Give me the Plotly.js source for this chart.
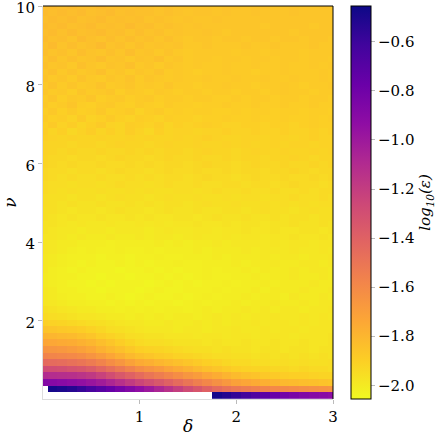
<!DOCTYPE html>
<html>
<head>
<meta charset="utf-8">
<script src="https://cdn.plot.ly/plotly-3.0.1.min.js"></script>
<style>html,body{margin:0;padding:0;background:#fff;}#chart{width:436px;height:436px;}</style>
</head>
<body>
<div id="chart"></div>
<script>
// delta (x) grid centres
const delta = [0.0,0.1,0.2,0.3,0.4,0.5,0.6,0.7,0.8,0.9,1.0,1.1,1.2,1.3,1.4,1.5,1.6,1.7,1.8,1.9,2.0,2.1,2.2,2.3,2.4,2.5,2.6,2.7,2.8,2.9,3.0];
// nu (y) grid centres
const nu = [0.100,0.268,0.436,0.603,0.771,0.939,1.107,1.275,1.442,1.610,1.778,1.946,2.114,2.281,2.449,2.617,2.785,2.953,3.120,3.288,
3.456,3.624,3.792,3.959,4.127,4.295,4.463,4.631,4.798,4.966,5.134,5.302,5.469,5.637,5.805,5.973,6.141,6.308,6.476,6.644,
6.812,6.980,7.147,7.315,7.483,7.651,7.819,7.986,8.154,8.322,8.490,8.658,8.825,8.993,9.161,9.329,9.497,9.664,9.832,10.000];
// log10(epsilon), one row per nu value (bottom to top), one column per delta value
const logEps = [
[null,null,null,null,null,null,null,null,null,null, null,null,null,null,null,null,null,null,-0.48,-0.52, -0.57,-0.62,-0.67,-0.72,-0.77,-0.81,-0.84,-0.87,-0.89,-0.91, -0.93],
[null,-0.48,-0.50,-0.53,-0.58,-0.64,-0.70,-0.76,-0.82,-0.88, -0.94,-1.00,-1.07,-1.14,-1.21,-1.28,-1.34,-1.40,-1.45,-1.49, -1.52,-1.54,-1.56,-1.58,-1.60,-1.61,-1.62,-1.63,-1.64,-1.65, -1.66],
[-0.88,-0.89,-0.91,-0.93,-0.95,-0.98,-1.02,-1.07,-1.13,-1.19, -1.25,-1.30,-1.35,-1.40,-1.45,-1.50,-1.55,-1.59,-1.63,-1.67, -1.71,-1.73,-1.75,-1.77,-1.79,-1.81,-1.82,-1.83,-1.84,-1.85, -1.86],
[-1.10,-1.11,-1.12,-1.13,-1.15,-1.18,-1.23,-1.29,-1.35,-1.40, -1.45,-1.50,-1.54,-1.58,-1.62,-1.66,-1.69,-1.73,-1.76,-1.79, -1.82,-1.84,-1.85,-1.87,-1.88,-1.89,-1.90,-1.90,-1.91,-1.92, -1.92],
[-1.28,-1.29,-1.30,-1.32,-1.34,-1.37,-1.42,-1.47,-1.52,-1.57, -1.62,-1.65,-1.68,-1.72,-1.75,-1.78,-1.81,-1.84,-1.86,-1.88, -1.90,-1.91,-1.92,-1.92,-1.93,-1.93,-1.94,-1.93,-1.94,-1.94, -1.95],
[-1.44,-1.45,-1.46,-1.48,-1.50,-1.53,-1.57,-1.62,-1.66,-1.71, -1.75,-1.77,-1.80,-1.82,-1.84,-1.86,-1.88,-1.90,-1.91,-1.93, -1.94,-1.94,-1.95,-1.95,-1.96,-1.95,-1.96,-1.95,-1.96,-1.96, -1.95],
[-1.57,-1.58,-1.59,-1.60,-1.62,-1.65,-1.69,-1.73,-1.77,-1.81, -1.84,-1.86,-1.88,-1.89,-1.91,-1.92,-1.93,-1.94,-1.95,-1.95, -1.96,-1.96,-1.97,-1.96,-1.97,-1.96,-1.97,-1.96,-1.97,-1.96, -1.97],
[-1.65,-1.66,-1.67,-1.69,-1.71,-1.74,-1.78,-1.81,-1.84,-1.87, -1.90,-1.91,-1.92,-1.93,-1.94,-1.95,-1.96,-1.96,-1.97,-1.96, -1.97,-1.97,-1.98,-1.97,-1.97,-1.98,-1.97,-1.97,-1.98,-1.97, -1.97],
[-1.73,-1.74,-1.75,-1.76,-1.78,-1.80,-1.83,-1.86,-1.89,-1.92, -1.94,-1.95,-1.95,-1.96,-1.97,-1.97,-1.97,-1.98,-1.97,-1.98, -1.98,-1.97,-1.98,-1.98,-1.97,-1.98,-1.98,-1.97,-1.98,-1.98, -1.97],
[-1.79,-1.80,-1.81,-1.82,-1.84,-1.86,-1.89,-1.91,-1.93,-1.95, -1.96,-1.97,-1.97,-1.98,-1.98,-1.98,-1.99,-1.98,-1.98,-1.99, -1.98,-1.98,-1.99,-1.98,-1.98,-1.98,-1.99,-1.98,-1.98,-1.98, -1.97],
[-1.85,-1.86,-1.87,-1.88,-1.89,-1.91,-1.93,-1.95,-1.96,-1.97, -1.98,-1.99,-1.99,-1.99,-2.00,-1.99,-1.99,-2.00,-1.99,-1.99, -1.98,-1.99,-1.99,-1.98,-1.99,-1.98,-1.98,-1.99,-1.98,-1.98, -1.98],
[-1.90,-1.91,-1.92,-1.93,-1.94,-1.95,-1.96,-1.97,-1.98,-1.99, -1.99,-2.00,-2.00,-1.99,-2.00,-2.00,-1.99,-2.00,-1.99,-2.00, -1.99,-1.99,-1.98,-1.99,-1.99,-1.98,-1.99,-1.98,-1.99,-1.98, -1.98],
[-1.94,-1.95,-1.96,-1.97,-1.98,-1.98,-1.99,-2.00,-2.00,-2.01, -2.00,-2.01,-2.00,-2.01,-2.00,-2.00,-2.01,-2.00,-1.99,-2.00, -1.99,-2.00,-1.99,-1.99,-1.98,-1.99,-1.99,-1.98,-1.99,-1.98, -1.99],
[-1.96,-1.97,-1.98,-1.99,-2.00,-2.00,-2.01,-2.01,-2.02,-2.01, -2.02,-2.01,-2.02,-2.01,-2.01,-2.02,-2.01,-2.00,-2.01,-2.00, -2.00,-1.99,-2.00,-1.99,-2.00,-1.99,-1.99,-2.00,-1.99,-1.99, -1.98],
[-1.98,-1.99,-2.00,-2.01,-2.01,-2.02,-2.02,-2.03,-2.02,-2.03, -2.02,-2.03,-2.02,-2.02,-2.03,-2.02,-2.01,-2.02,-2.01,-2.01, -2.00,-2.01,-2.00,-2.00,-1.99,-2.00,-2.00,-1.99,-2.00,-1.99, -1.99],
[-1.99,-2.00,-2.01,-2.02,-2.02,-2.03,-2.03,-2.02,-2.03,-2.04, -2.03,-2.02,-2.03,-2.03,-2.02,-2.03,-2.02,-2.01,-2.02,-2.01, -2.01,-2.00,-2.01,-2.00,-2.00,-2.01,-1.99,-2.00,-2.00,-1.99, -2.00],
[-1.99,-2.00,-2.02,-2.02,-2.03,-2.03,-2.04,-2.03,-2.03,-2.03, -2.04,-2.03,-2.02,-2.03,-2.03,-2.02,-2.02,-2.02,-2.01,-2.02, -2.01,-2.01,-2.00,-2.01,-2.00,-2.00,-2.00,-1.99,-2.00,-2.00, -1.99],
[-2.00,-2.01,-2.02,-2.03,-2.03,-2.04,-2.03,-2.04,-2.03,-2.03, -2.03,-2.04,-2.03,-2.02,-2.03,-2.02,-2.03,-2.02,-2.02,-2.01, -2.02,-2.01,-2.01,-2.00,-2.01,-2.00,-2.00,-2.00,-1.99,-2.00, -2.00],
[-2.00,-2.01,-2.02,-2.02,-2.03,-2.03,-2.04,-2.03,-2.03,-2.04, -2.03,-2.03,-2.02,-2.03,-2.02,-2.03,-2.02,-2.01,-2.02,-2.02, -2.01,-2.01,-2.00,-2.01,-2.00,-2.00,-1.99,-2.00,-2.00,-1.99, -2.00],
[-1.99,-2.01,-2.02,-2.03,-2.02,-2.03,-2.03,-2.03,-2.04,-2.03, -2.03,-2.02,-2.03,-2.02,-2.03,-2.02,-2.02,-2.01,-2.02,-2.01, -2.01,-2.00,-2.01,-2.00,-2.00,-2.00,-1.99,-2.00,-1.99,-1.99, -2.00],
[-1.99,-2.00,-2.01,-2.02,-2.03,-2.02,-2.03,-2.03,-2.02,-2.03, -2.02,-2.03,-2.02,-2.02,-2.01,-2.02,-2.02,-2.01,-2.01,-2.01, -2.00,-2.01,-2.00,-2.00,-1.99,-2.00,-2.00,-1.99,-1.99,-2.00, -1.99],
[-1.99,-2.00,-2.01,-2.02,-2.02,-2.02,-2.03,-2.02,-2.02,-2.03, -2.02,-2.02,-2.01,-2.02,-2.02,-2.01,-2.01,-2.01,-2.00,-2.01, -2.00,-2.00,-2.00,-1.99,-2.00,-1.99,-1.99,-2.00,-1.99,-1.99, -1.98],
[-1.98,-1.99,-2.00,-2.01,-2.02,-2.01,-2.02,-2.02,-2.01,-2.02, -2.02,-2.01,-2.02,-2.01,-2.01,-2.01,-2.00,-2.01,-2.00,-2.00, -2.00,-1.99,-2.00,-1.99,-1.99,-1.99,-1.98,-1.99,-1.99,-1.98, -1.99],
[-1.98,-1.99,-2.00,-2.00,-2.01,-2.01,-2.01,-2.02,-2.01,-2.01, -2.01,-2.01,-2.00,-2.01,-2.00,-2.01,-2.00,-2.00,-1.99,-2.00, -1.99,-1.99,-1.99,-1.99,-1.98,-1.99,-1.98,-1.98,-1.99,-1.98, -1.98],
[-1.98,-1.98,-1.99,-2.00,-1.99,-2.00,-2.00,-1.99,-2.00,-2.00, -1.99,-2.00,-1.99,-1.99,-2.00,-1.99,-1.98,-1.99,-1.99,-1.98, -1.99,-1.98,-1.98,-1.99,-1.98,-1.98,-1.97,-1.98,-1.98,-1.97, -1.98],
[-1.97,-1.98,-1.99,-1.99,-2.00,-1.99,-1.99,-2.00,-1.99,-1.99, -1.99,-2.00,-1.99,-1.98,-1.99,-1.99,-1.98,-1.98,-1.99,-1.98, -1.98,-1.97,-1.98,-1.98,-1.97,-1.98,-1.98,-1.97,-1.97,-1.98, -1.97],
[-1.97,-1.97,-1.98,-1.99,-1.98,-1.99,-1.99,-1.98,-1.99,-1.99, -1.98,-1.99,-1.98,-1.99,-1.98,-1.98,-1.97,-1.98,-1.98,-1.97, -1.98,-1.97,-1.97,-1.98,-1.97,-1.97,-1.96,-1.97,-1.97,-1.96, -1.97],
[-1.96,-1.97,-1.98,-1.97,-1.98,-1.98,-1.97,-1.98,-1.98,-1.97, -1.98,-1.97,-1.98,-1.98,-1.97,-1.97,-1.98,-1.97,-1.96,-1.97, -1.97,-1.96,-1.97,-1.97,-1.96,-1.97,-1.96,-1.96,-1.97,-1.96, -1.96],
[-1.96,-1.96,-1.97,-1.98,-1.97,-1.97,-1.98,-1.97,-1.96,-1.97, -1.97,-1.98,-1.97,-1.96,-1.97,-1.97,-1.96,-1.97,-1.97,-1.96, -1.96,-1.97,-1.96,-1.95,-1.96,-1.96,-1.97,-1.96,-1.95,-1.96, -1.96],
[-1.95,-1.96,-1.97,-1.96,-1.97,-1.97,-1.96,-1.97,-1.97,-1.96, -1.97,-1.96,-1.97,-1.96,-1.96,-1.97,-1.96,-1.95,-1.96,-1.96, -1.95,-1.96,-1.96,-1.95,-1.96,-1.95,-1.96,-1.95,-1.96,-1.95, -1.95],
[-1.95,-1.96,-1.96,-1.97,-1.96,-1.96,-1.97,-1.96,-1.95,-1.96, -1.96,-1.97,-1.96,-1.95,-1.96,-1.96,-1.95,-1.96,-1.96,-1.95, -1.96,-1.95,-1.95,-1.96,-1.95,-1.95,-1.94,-1.95,-1.95,-1.94, -1.95],
[-1.94,-1.95,-1.96,-1.95,-1.96,-1.96,-1.95,-1.96,-1.96,-1.95, -1.96,-1.95,-1.96,-1.96,-1.95,-1.95,-1.96,-1.95,-1.94,-1.95, -1.95,-1.94,-1.95,-1.95,-1.94,-1.95,-1.95,-1.94,-1.95,-1.94, -1.94],
[-1.94,-1.95,-1.95,-1.96,-1.95,-1.95,-1.96,-1.95,-1.94,-1.95, -1.95,-1.96,-1.95,-1.94,-1.95,-1.95,-1.94,-1.95,-1.95,-1.94, -1.94,-1.95,-1.94,-1.94,-1.95,-1.94,-1.93,-1.94,-1.94,-1.95, -1.94],
[-1.93,-1.94,-1.95,-1.94,-1.95,-1.95,-1.94,-1.95,-1.95,-1.94, -1.95,-1.94,-1.95,-1.94,-1.94,-1.95,-1.94,-1.93,-1.94,-1.94, -1.95,-1.94,-1.93,-1.94,-1.94,-1.93,-1.94,-1.94,-1.93,-1.94, -1.93],
[-1.93,-1.94,-1.94,-1.95,-1.94,-1.94,-1.95,-1.94,-1.93,-1.94, -1.94,-1.95,-1.94,-1.93,-1.94,-1.94,-1.93,-1.94,-1.94,-1.93, -1.94,-1.93,-1.93,-1.94,-1.93,-1.93,-1.92,-1.93,-1.94,-1.93, -1.93],
[-1.92,-1.93,-1.94,-1.93,-1.94,-1.94,-1.93,-1.94,-1.94,-1.93, -1.94,-1.93,-1.94,-1.93,-1.93,-1.94,-1.93,-1.92,-1.93,-1.93, -1.94,-1.93,-1.92,-1.93,-1.93,-1.92,-1.93,-1.93,-1.92,-1.93, -1.92],
[-1.92,-1.93,-1.93,-1.94,-1.93,-1.93,-1.94,-1.93,-1.92,-1.93, -1.93,-1.94,-1.93,-1.92,-1.93,-1.93,-1.92,-1.93,-1.93,-1.92, -1.93,-1.92,-1.92,-1.93,-1.92,-1.92,-1.91,-1.92,-1.93,-1.92, -1.92],
[-1.91,-1.92,-1.93,-1.92,-1.93,-1.93,-1.92,-1.93,-1.93,-1.92, -1.93,-1.92,-1.93,-1.92,-1.92,-1.93,-1.92,-1.91,-1.92,-1.92, -1.93,-1.92,-1.91,-1.92,-1.92,-1.91,-1.92,-1.92,-1.91,-1.92, -1.91],
[-1.91,-1.92,-1.92,-1.93,-1.92,-1.92,-1.93,-1.92,-1.91,-1.92, -1.92,-1.93,-1.92,-1.91,-1.92,-1.92,-1.91,-1.92,-1.92,-1.91, -1.92,-1.91,-1.92,-1.92,-1.91,-1.92,-1.91,-1.91,-1.92,-1.91, -1.91],
[-1.90,-1.91,-1.92,-1.91,-1.92,-1.92,-1.91,-1.92,-1.92,-1.91, -1.92,-1.91,-1.92,-1.92,-1.91,-1.92,-1.91,-1.90,-1.91,-1.92, -1.92,-1.91,-1.91,-1.92,-1.91,-1.91,-1.92,-1.91,-1.90,-1.91, -1.91],
[-1.89,-1.92,-1.90,-1.93,-1.91,-1.89,-1.92,-1.90,-1.92,-1.89, -1.91,-1.93,-1.90,-1.92,-1.91,-1.91,-1.92,-1.91,-1.91,-1.90, -1.91,-1.91,-1.90,-1.91,-1.91,-1.90,-1.91,-1.91,-1.90,-1.91, -1.90],
[-1.90,-1.88,-1.91,-1.89,-1.92,-1.90,-1.88,-1.91,-1.92,-1.89, -1.90,-1.91,-1.89,-1.92,-1.90,-1.91,-1.90,-1.89,-1.90,-1.91, -1.91,-1.90,-1.90,-1.91,-1.90,-1.90,-1.91,-1.90,-1.89,-1.90, -1.90],
[-1.88,-1.90,-1.89,-1.91,-1.88,-1.91,-1.90,-1.88,-1.90,-1.91, -1.89,-1.90,-1.91,-1.89,-1.90,-1.90,-1.91,-1.90,-1.90,-1.89, -1.90,-1.90,-1.89,-1.90,-1.90,-1.89,-1.90,-1.90,-1.89,-1.90, -1.89],
[-1.89,-1.87,-1.90,-1.88,-1.90,-1.89,-1.87,-1.90,-1.89,-1.88, -1.91,-1.89,-1.88,-1.90,-1.89,-1.90,-1.89,-1.89,-1.90,-1.90, -1.89,-1.90,-1.89,-1.89,-1.90,-1.89,-1.89,-1.90,-1.89,-1.89, -1.90],
[-1.87,-1.89,-1.88,-1.86,-1.89,-1.90,-1.88,-1.87,-1.89,-1.90, -1.88,-1.89,-1.90,-1.88,-1.89,-1.89,-1.90,-1.89,-1.89,-1.88, -1.89,-1.89,-1.88,-1.89,-1.89,-1.88,-1.89,-1.89,-1.88,-1.89, -1.89],
[-1.88,-1.86,-1.89,-1.87,-1.88,-1.86,-1.89,-1.88,-1.87,-1.89, -1.88,-1.87,-1.89,-1.88,-1.88,-1.89,-1.88,-1.88,-1.89,-1.89, -1.88,-1.89,-1.88,-1.88,-1.89,-1.88,-1.88,-1.89,-1.88,-1.88, -1.89],
[-1.86,-1.88,-1.87,-1.89,-1.86,-1.88,-1.87,-1.86,-1.89,-1.87, -1.88,-1.89,-1.87,-1.88,-1.89,-1.88,-1.88,-1.89,-1.88,-1.88, -1.89,-1.88,-1.88,-1.89,-1.88,-1.87,-1.88,-1.88,-1.89,-1.88, -1.88],
[-1.87,-1.85,-1.88,-1.86,-1.88,-1.87,-1.85,-1.88,-1.87,-1.86, -1.88,-1.87,-1.88,-1.86,-1.88,-1.88,-1.89,-1.88,-1.88,-1.87, -1.88,-1.88,-1.89,-1.88,-1.88,-1.87,-1.88,-1.89,-1.88,-1.88, -1.87],
[-1.85,-1.87,-1.86,-1.88,-1.85,-1.87,-1.88,-1.86,-1.87,-1.85, -1.88,-1.86,-1.87,-1.88,-1.87,-1.88,-1.88,-1.87,-1.88,-1.88, -1.87,-1.88,-1.88,-1.87,-1.88,-1.88,-1.87,-1.88,-1.88,-1.87, -1.88],
[-1.86,-1.84,-1.87,-1.85,-1.87,-1.86,-1.84,-1.87,-1.86,-1.88, -1.86,-1.87,-1.85,-1.88,-1.87,-1.88,-1.89,-1.88,-1.88,-1.87, -1.88,-1.88,-1.89,-1.88,-1.88,-1.87,-1.88,-1.88,-1.88,-1.87, -1.88],
[-1.84,-1.86,-1.85,-1.87,-1.84,-1.86,-1.87,-1.85,-1.86,-1.84, -1.87,-1.86,-1.88,-1.86,-1.87,-1.88,-1.87,-1.88,-1.88,-1.87, -1.88,-1.88,-1.87,-1.88,-1.88,-1.87,-1.88,-1.88,-1.87,-1.88, -1.87],
[-1.85,-1.83,-1.86,-1.84,-1.86,-1.85,-1.83,-1.86,-1.85,-1.87, -1.85,-1.86,-1.84,-1.87,-1.86,-1.88,-1.87,-1.87,-1.88,-1.87, -1.87,-1.88,-1.87,-1.87,-1.88,-1.87,-1.87,-1.88,-1.87,-1.87, -1.88],
[-1.83,-1.85,-1.84,-1.86,-1.83,-1.85,-1.86,-1.84,-1.86,-1.83, -1.86,-1.85,-1.87,-1.85,-1.87,-1.88,-1.87,-1.87,-1.87,-1.87, -1.88,-1.87,-1.87,-1.88,-1.87,-1.87,-1.87,-1.88,-1.87,-1.87, -1.87],
[-1.84,-1.82,-1.85,-1.83,-1.85,-1.84,-1.82,-1.85,-1.84,-1.86, -1.84,-1.86,-1.85,-1.86,-1.85,-1.87,-1.87,-1.86,-1.87,-1.87, -1.87,-1.86,-1.87,-1.87,-1.86,-1.87,-1.87,-1.87,-1.86,-1.87, -1.87],
[-1.82,-1.84,-1.83,-1.85,-1.82,-1.84,-1.85,-1.83,-1.85,-1.83, -1.85,-1.84,-1.86,-1.84,-1.86,-1.87,-1.86,-1.86,-1.87,-1.86, -1.86,-1.87,-1.86,-1.86,-1.87,-1.86,-1.86,-1.87,-1.86,-1.86, -1.87],
[-1.83,-1.82,-1.84,-1.82,-1.84,-1.83,-1.82,-1.84,-1.83,-1.85, -1.83,-1.85,-1.84,-1.86,-1.85,-1.86,-1.86,-1.85,-1.86,-1.87, -1.86,-1.86,-1.86,-1.86,-1.86,-1.86,-1.87,-1.86,-1.86,-1.86, -1.86],
[-1.82,-1.83,-1.82,-1.84,-1.83,-1.82,-1.84,-1.83,-1.84,-1.82, -1.84,-1.83,-1.85,-1.84,-1.85,-1.86,-1.85,-1.86,-1.86,-1.86, -1.86,-1.86,-1.86,-1.87,-1.86,-1.86,-1.86,-1.86,-1.87,-1.86, -1.86],
[-1.83,-1.82,-1.83,-1.82,-1.84,-1.83,-1.82,-1.84,-1.83,-1.84, -1.83,-1.85,-1.84,-1.85,-1.86,-1.85,-1.86,-1.86,-1.85,-1.86, -1.86,-1.86,-1.86,-1.86,-1.86,-1.86,-1.86,-1.86,-1.86,-1.86, -1.86],
[-1.82,-1.83,-1.82,-1.83,-1.82,-1.84,-1.83,-1.82,-1.84,-1.83, -1.84,-1.84,-1.85,-1.84,-1.85,-1.86,-1.85,-1.85,-1.86,-1.85, -1.86,-1.86,-1.85,-1.86,-1.86,-1.86,-1.85,-1.86,-1.86,-1.86, -1.86],
[-1.82,-1.82,-1.83,-1.82,-1.83,-1.83,-1.82,-1.83,-1.83,-1.84, -1.83,-1.84,-1.85,-1.84,-1.85,-1.85,-1.85,-1.85,-1.86,-1.85, -1.85,-1.86,-1.85,-1.85,-1.86,-1.86,-1.85,-1.86,-1.86,-1.85, -1.86]
];
const cbTickVals = [-2.0,-1.8,-1.6,-1.4,-1.2,-1.0,-0.8,-0.6];
const cbTickText = ['\u22122.0','\u22121.8','\u22121.6','\u22121.4','\u22121.2','\u22121.0','\u22120.8','\u22120.6'];
const xTickVals = [1,2,3];
const yTickVals = [2,4,6,8,10];

// matplotlib "plasma", reversed (low = yellow, high = dark blue)
const plasmaR = [
  [0.0,'#f0f921'],[0.1,'#fcce25'],[0.2,'#fca636'],[0.3,'#f2844b'],[0.4,'#e16462'],
  [0.5,'#cc4778'],[0.6,'#b12a90'],[0.7,'#8f0da4'],[0.8,'#6a00a8'],[0.9,'#41049d'],[1.0,'#0d0887']
];

const FONT = 'DejaVu Serif';

const trace = {
  type: 'heatmap',
  x: delta, y: nu, z: logEps,
  zmin: -2.056, zmax: -0.454,
  colorscale: plasmaR,
  hoverinfo: 'skip',
  colorbar: {
    x: 1.062, xanchor: 'left', xpad: 0, ypad: 0,
    y: 0.5, yanchor: 'middle', len: 1, lenmode: 'fraction',
    thickness: 20, thicknessmode: 'pixels',
    outlinewidth: 1, outlinecolor: '#000',
    tickmode: 'array', tickvals: cbTickVals, ticktext: cbTickText,
    ticks: 'outside', ticklen: 4, tickcolor: '#bbb', tickwidth: 1,
    tickfont: {family: FONT, size: 15, color: '#000'},
    title: {text: 'log<sub>10</sub>(ε)', side: 'right', font: {family: FONT, size: 15, color: '#000', style: 'italic'}}
  }
};

const layout = {
  width: 436, height: 436,
  margin: {l: 43, r: 103, t: 6, b: 37, pad: 0, autoexpand: false},
  paper_bgcolor: '#fff', plot_bgcolor: '#fff',
  font: {family: FONT, size: 15, color: '#000'},
  xaxis: {
    range: [0.003, 3], tickmode: 'array', tickvals: xTickVals, ticktext: ['1','2','3'],
    ticks: 'outside', ticklen: 4, tickcolor: '#bbb', tickwidth: 1, ticklabeloverflow: 'allow',
    showline: true, linecolor: '#ddd', linewidth: 1, showgrid: false, zeroline: false,
    tickfont: {family: FONT, size: 15},
    title: {text: 'δ', font: {family: FONT, size: 17, style: 'italic'}, standoff: 3}
  },
  yaxis: {
    range: [0.016, 10.002], tickmode: 'array', tickvals: yTickVals, ticktext: ['2','4','6','8','10'],
    ticks: 'outside', ticklen: 4, tickcolor: '#bbb', tickwidth: 1, ticklabeloverflow: 'allow',
    ticklabelshift: 2,
    showline: true, linecolor: '#ddd', linewidth: 1, showgrid: false, zeroline: false,
    tickfont: {family: FONT, size: 15},
    title: {text: 'ν', font: {family: FONT, size: 17, style: 'italic'}, standoff: 3}
  },
  shapes: [
    {type: 'line', xref: 'paper', yref: 'paper', x0: 0, x1: 1, y0: 1, y1: 1, line: {color: '#000', width: 1}},
    {type: 'line', xref: 'paper', yref: 'paper', x0: 1, x1: 1, y0: 0, y1: 1, line: {color: '#000', width: 1}}
  ]
};

Plotly.newPlot('chart', [trace], layout, {staticPlot: true, displayModeBar: false});
</script>
</body>
</html>
